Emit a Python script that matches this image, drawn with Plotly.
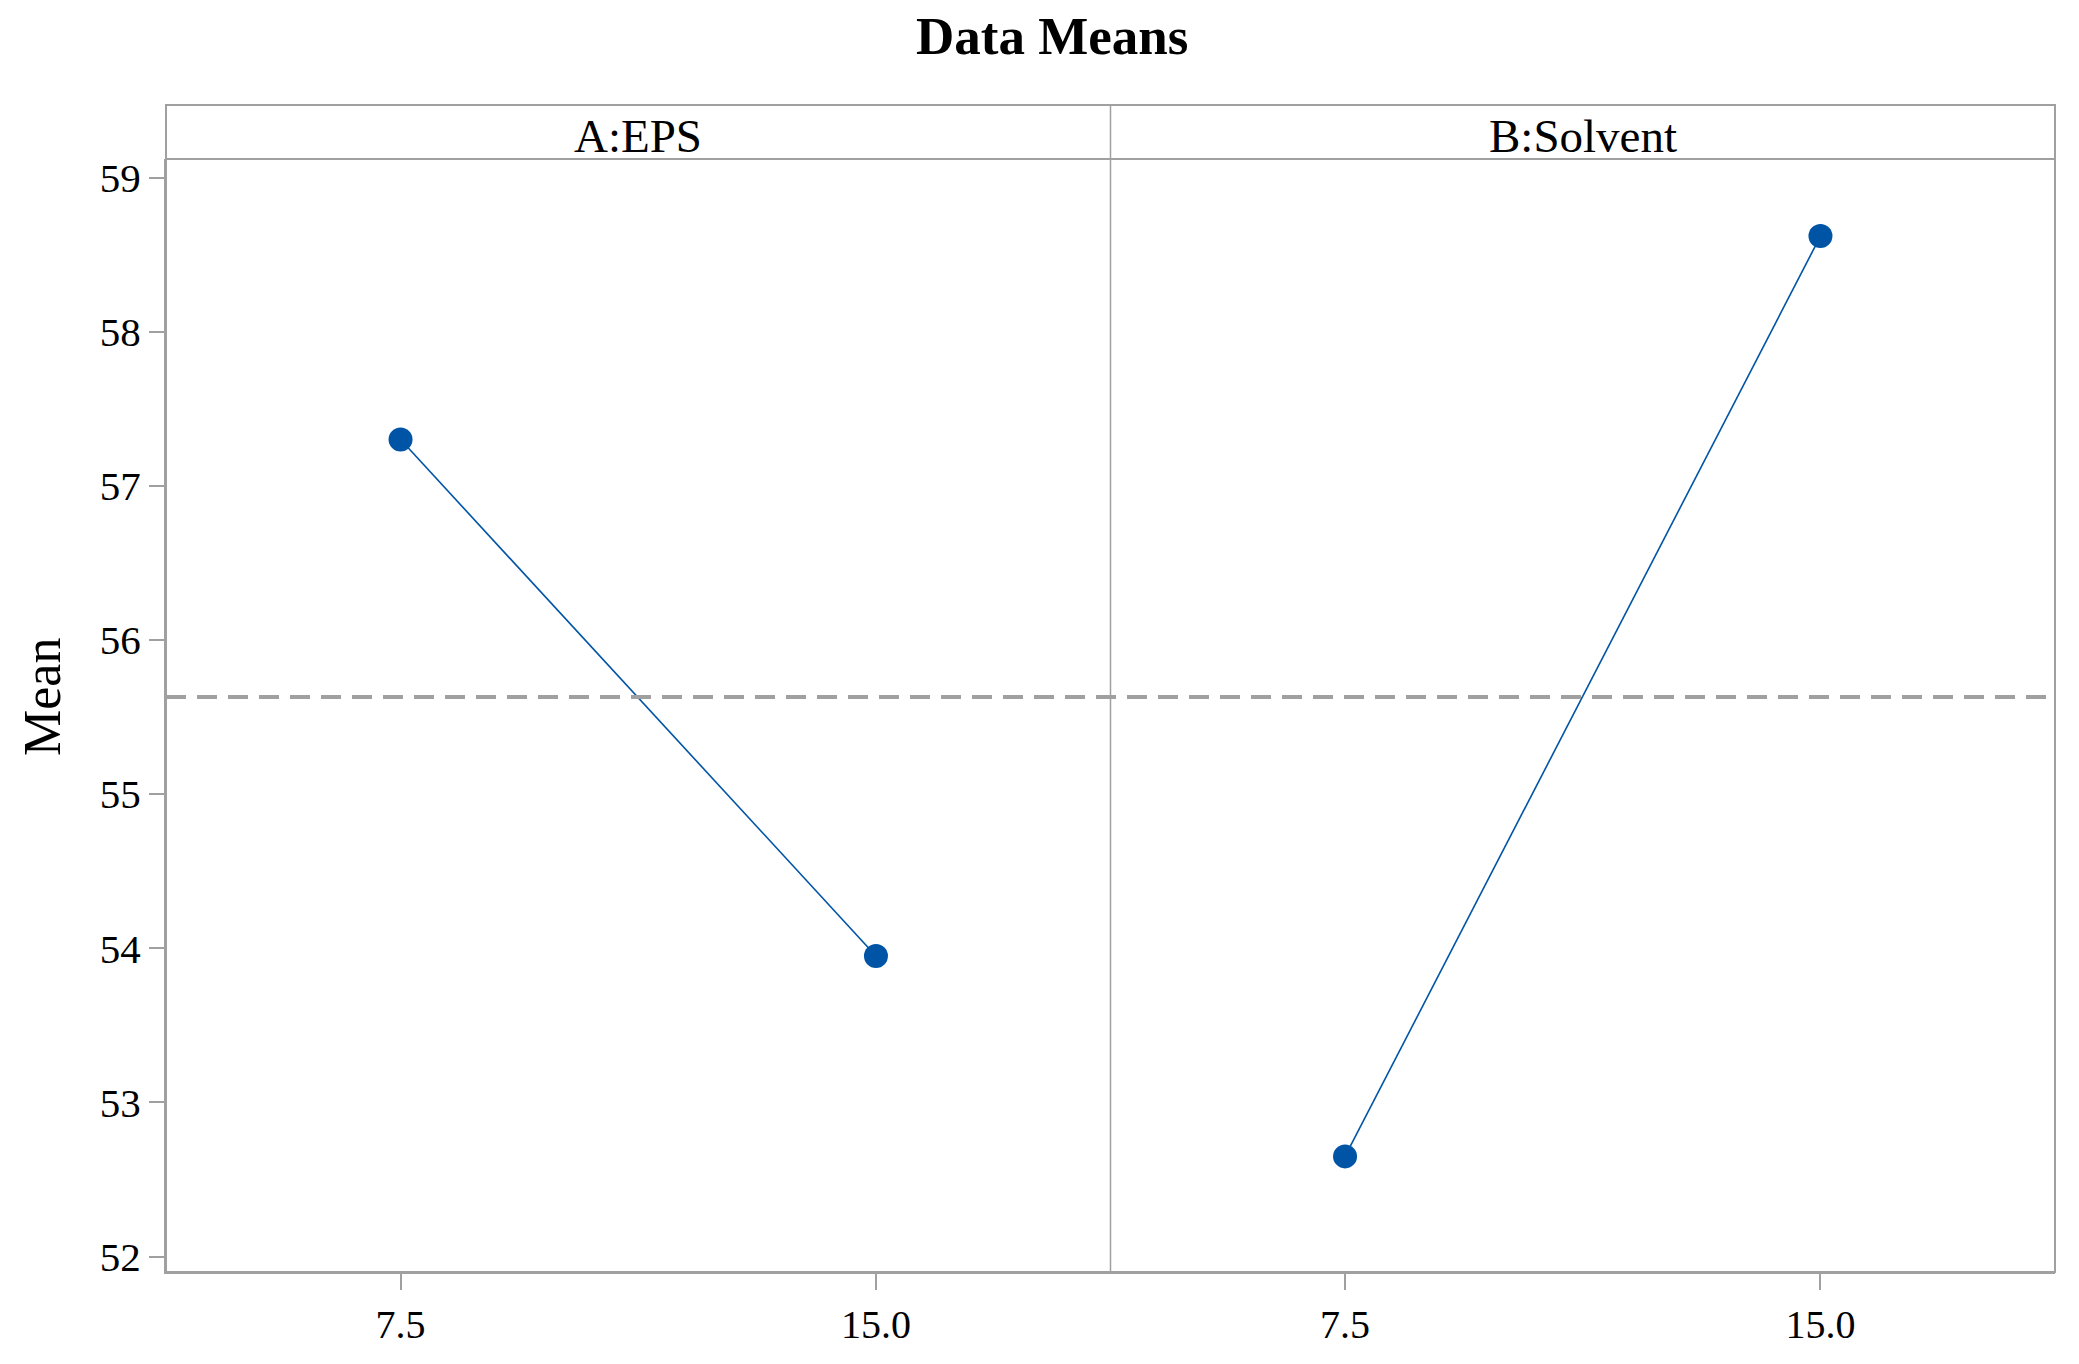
import plotly.graph_objects as go
from plotly.subplots import make_subplots

# ---- data ----
factors = ["A:EPS", "B:Solvent"]
levels = [7.5, 15.0]
level_labels = ["7.5", "15.0"]
means_A = [57.30, 53.95]
means_B = [52.65, 58.62]
y_ticks = [52, 53, 54, 55, 56, 57, 58, 59]

grand_mean = (sum(means_A) + sum(means_B)) / 4.0

BLUE = "#0054A6"
GRAY = "#a0a0a0"
FONT = "Liberation Serif"

fig = make_subplots(rows=1, cols=2, shared_yaxes=True, horizontal_spacing=0)

for i, vals in enumerate([means_A, means_B], start=1):
    fig.add_trace(go.Scatter(
        x=levels, y=vals, mode="lines+markers",
        line=dict(color=BLUE, width=1.6),
        marker=dict(color=BLUE, size=24),
        showlegend=False, hoverinfo="x+y"), row=1, col=i)

W, H = 2079, 1364
L, R, T, B = 166, 24, 159, 92
plot_h = H - T - B
hdr = 54 / plot_h

axis_common = dict(range=[3.8, 18.7], tickvals=levels, ticktext=level_labels,
                   ticks="outside", ticklen=16, tickwidth=1.5, tickcolor=GRAY,
                   showgrid=False, zeroline=False, showline=True, linecolor=GRAY,
                   linewidth=2, tickfont=dict(family=FONT, size=40, color="black"))
fig.update_layout(
    xaxis=dict(domain=[0, 0.5], **axis_common),
    xaxis2=dict(domain=[0.5, 1], **axis_common),
    yaxis=dict(range=[51.9, 59.12], tickvals=y_ticks, ticks="outside", ticklen=15,
               tickwidth=1.5, tickcolor=GRAY, showgrid=False, zeroline=False,
               showline=True, linecolor=GRAY, linewidth=2,
               tickfont=dict(family=FONT, size=41, color="black")),
    yaxis2=dict(range=[51.9, 59.12], showticklabels=False, ticks="", showgrid=False,
                zeroline=False, showline=False),
    width=W, height=H,
    margin=dict(l=L, r=R, t=T, b=B),
    plot_bgcolor="white", paper_bgcolor="white",
)

# mean reference line across both panels
fig.add_shape(type="line", xref="paper", yref="y", x0=0, x1=1,
              y0=grand_mean, y1=grand_mean,
              line=dict(color=GRAY, width=4, dash="20px,11px"))

# frame, header band and divider
fig.add_shape(type="rect", xref="paper", yref="paper", x0=0, x1=1, y0=0, y1=1 + hdr,
              line=dict(color=GRAY, width=2))
fig.add_shape(type="line", xref="paper", yref="paper", x0=0, x1=1, y0=1, y1=1,
              line=dict(color=GRAY, width=2))
fig.add_shape(type="line", xref="paper", yref="paper", x0=0.5, x1=0.5, y0=0, y1=1 + hdr,
              line=dict(color=GRAY, width=1.5))

# panel headers
for xc, name in zip([0.25, 0.75], factors):
    fig.add_annotation(x=xc, y=1 + (hdr / 2) - 4 / plot_h, xref="paper", yref="paper", text=name,
                       showarrow=False, xanchor="center", yanchor="middle",
                       font=dict(family=FONT, size=47, color="black"))

# title
fig.add_annotation(x=(1052 - L) / (W - L - R), y=1 + (T - 36) / plot_h, xref="paper", yref="paper",
                   text="<b>Data Means</b>", showarrow=False, xanchor="center", yanchor="middle",
                   font=dict(family=FONT, size=53, color="black"))

# y axis title
fig.add_annotation(x=(42 - L) / (W - L - R), y=(1272 - 697) / plot_h, xref="paper", yref="paper",
                   text="Mean", textangle=-90, showarrow=False, xanchor="center", yanchor="middle",
                   font=dict(family=FONT, size=52, color="black"))

fig.write_html("out.html", config={"displayModeBar": False},
               post_script="document.body.style.margin='0';")
